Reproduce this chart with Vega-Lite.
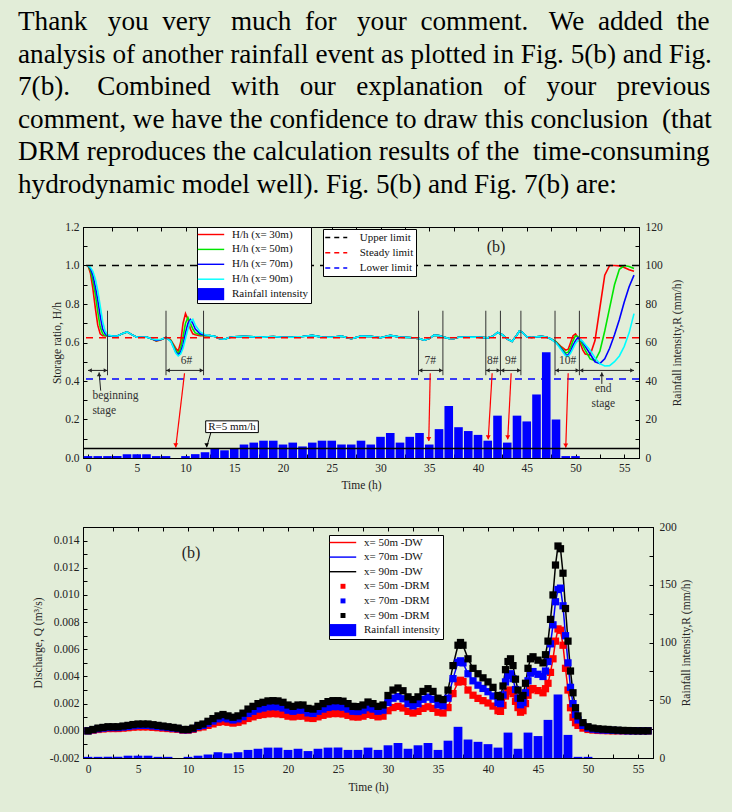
{
"$schema": "https://vega.github.io/schema/vega-lite/v6.json",
"background": "#e2edd8",
"padding": {"left": 18, "top": 8, "right": 50, "bottom": 40},
"title": {
  "text": ["Thank \u00a0\u00a0you \u00a0very \u00a0\u00a0much \u00a0for \u00a0\u00a0your \u00a0comment. \u00a0\u00a0We \u00a0added \u00a0the", "analysis of another rainfall event as plotted in Fig. 5(b) and Fig.", "7(b). \u00a0\u00a0\u00a0Combined \u00a0\u00a0with \u00a0\u00a0our \u00a0\u00a0explanation \u00a0\u00a0of \u00a0\u00a0your \u00a0\u00a0previous", "comment, we have the confidence to draw this conclusion \u00a0(that", "DRM reproduces the calculation results of the \u00a0time-consuming", "hydrodynamic model well). Fig. 5(b) and Fig. 7(b) are:"],
  "anchor": "start", "frame": "group", "font": "Liberation Serif", "fontSize": 27.2, "fontWeight": "normal", "lineHeight": 32.5, "color": "#000000", "offset": 21.5, "dx": -65
},
"bounds": "flush",
"spacing": 69,
"resolve": {"scale": {"color": "independent", "shape": "independent", "stroke": "independent"}, "legend": {"color": "independent", "shape": "independent", "stroke": "independent"}},
"datasets": {
  "hh": [
    {"t":0,"x30":1,"x50":1,"x70":1,"x90":1},
    {"t":0.25,"x30":0.96,"x50":0.975,"x70":0.985,"x90":0.99},
    {"t":0.5,"x30":0.88,"x50":0.92,"x70":0.95,"x90":0.97},
    {"t":0.75,"x30":0.78,"x50":0.85,"x70":0.89,"x90":0.93},
    {"t":1,"x30":0.69,"x50":0.76,"x70":0.82,"x90":0.87},
    {"t":1.25,"x30":0.645,"x50":0.68,"x70":0.74,"x90":0.79},
    {"t":1.5,"x30":0.635,"x50":0.645,"x70":0.67,"x90":0.71},
    {"t":1.75,"x30":0.635,"x50":0.635,"x70":0.645,"x90":0.66},
    {"t":2,"x30":0.635,"x50":0.635,"x70":0.635,"x90":0.64},
    {"t":2.5,"x30":0.634,"x50":0.634,"x70":0.634,"x90":0.634},
    {"t":3,"x30":0.634,"x50":0.634,"x70":0.634,"x90":0.634},
    {"t":3.5,"x30":0.645,"x50":0.645,"x70":0.645,"x90":0.645},
    {"t":4,"x30":0.655,"x50":0.655,"x70":0.655,"x90":0.655},
    {"t":4.5,"x30":0.641,"x50":0.641,"x70":0.641,"x90":0.641},
    {"t":5,"x30":0.628,"x50":0.628,"x70":0.628,"x90":0.628},
    {"t":5.5,"x30":0.627,"x50":0.627,"x70":0.627,"x90":0.627},
    {"t":6,"x30":0.628,"x50":0.628,"x70":0.628,"x90":0.628},
    {"t":6.5,"x30":0.62,"x50":0.62,"x70":0.62,"x90":0.62},
    {"t":7,"x30":0.607,"x50":0.609,"x70":0.611,"x90":0.614},
    {"t":7.5,"x30":0.614,"x50":0.615,"x70":0.616,"x90":0.617},
    {"t":8,"x30":0.626,"x50":0.626,"x70":0.626,"x90":0.626},
    {"t":8.5,"x30":0.612,"x50":0.61,"x70":0.607,"x90":0.605},
    {"t":9,"x30":0.57,"x50":0.56,"x70":0.55,"x90":0.545},
    {"t":9.25,"x30":0.555,"x50":0.54,"x70":0.535,"x90":0.53},
    {"t":9.5,"x30":0.6,"x50":0.57,"x70":0.55,"x90":0.54},
    {"t":9.75,"x30":0.7,"x50":0.63,"x70":0.59,"x90":0.57},
    {"t":10,"x30":0.75,"x50":0.7,"x70":0.65,"x90":0.62},
    {"t":10.25,"x30":0.72,"x50":0.73,"x70":0.7,"x90":0.67},
    {"t":10.5,"x30":0.67,"x50":0.7,"x70":0.72,"x90":0.71},
    {"t":10.75,"x30":0.645,"x50":0.67,"x70":0.7,"x90":0.72},
    {"t":11,"x30":0.64,"x50":0.65,"x70":0.67,"x90":0.69},
    {"t":11.5,"x30":0.635,"x50":0.64,"x70":0.645,"x90":0.655},
    {"t":12,"x30":0.635,"x50":0.635,"x70":0.638,"x90":0.64},
    {"t":12.5,"x30":0.636,"x50":0.636,"x70":0.636,"x90":0.636},
    {"t":13,"x30":0.632,"x50":0.632,"x70":0.632,"x90":0.632},
    {"t":13.5,"x30":0.62,"x50":0.62,"x70":0.62,"x90":0.62},
    {"t":14,"x30":0.617,"x50":0.617,"x70":0.617,"x90":0.617},
    {"t":14.5,"x30":0.626,"x50":0.626,"x70":0.626,"x90":0.626},
    {"t":15,"x30":0.63,"x50":0.63,"x70":0.63,"x90":0.63},
    {"t":16,"x30":0.632,"x50":0.632,"x70":0.632,"x90":0.632},
    {"t":17,"x30":0.629,"x50":0.629,"x70":0.629,"x90":0.629},
    {"t":18,"x30":0.628,"x50":0.628,"x70":0.628,"x90":0.628},
    {"t":19,"x30":0.631,"x50":0.631,"x70":0.631,"x90":0.631},
    {"t":20,"x30":0.627,"x50":0.627,"x70":0.627,"x90":0.627},
    {"t":21,"x30":0.628,"x50":0.628,"x70":0.628,"x90":0.628},
    {"t":22,"x30":0.631,"x50":0.631,"x70":0.631,"x90":0.631},
    {"t":23,"x30":0.637,"x50":0.637,"x70":0.637,"x90":0.637},
    {"t":24,"x30":0.628,"x50":0.628,"x70":0.628,"x90":0.628},
    {"t":25,"x30":0.627,"x50":0.627,"x70":0.627,"x90":0.627},
    {"t":26,"x30":0.633,"x50":0.633,"x70":0.633,"x90":0.633},
    {"t":27,"x30":0.62,"x50":0.62,"x70":0.62,"x90":0.62},
    {"t":28,"x30":0.633,"x50":0.633,"x70":0.633,"x90":0.633},
    {"t":29,"x30":0.632,"x50":0.632,"x70":0.632,"x90":0.632},
    {"t":30,"x30":0.625,"x50":0.625,"x70":0.625,"x90":0.625},
    {"t":31,"x30":0.637,"x50":0.637,"x70":0.637,"x90":0.637},
    {"t":32,"x30":0.628,"x50":0.628,"x70":0.628,"x90":0.628},
    {"t":33,"x30":0.626,"x50":0.626,"x70":0.626,"x90":0.626},
    {"t":34,"x30":0.62,"x50":0.62,"x70":0.62,"x90":0.62},
    {"t":34.5,"x30":0.612,"x50":0.612,"x70":0.612,"x90":0.612},
    {"t":35,"x30":0.62,"x50":0.62,"x70":0.62,"x90":0.62},
    {"t":35.5,"x30":0.638,"x50":0.638,"x70":0.638,"x90":0.638},
    {"t":36,"x30":0.636,"x50":0.636,"x70":0.636,"x90":0.636},
    {"t":36.5,"x30":0.628,"x50":0.628,"x70":0.628,"x90":0.628},
    {"t":37,"x30":0.621,"x50":0.621,"x70":0.621,"x90":0.621},
    {"t":37.5,"x30":0.62,"x50":0.62,"x70":0.62,"x90":0.62},
    {"t":38,"x30":0.627,"x50":0.627,"x70":0.627,"x90":0.627},
    {"t":39,"x30":0.628,"x50":0.628,"x70":0.628,"x90":0.628},
    {"t":40,"x30":0.628,"x50":0.628,"x70":0.628,"x90":0.628},
    {"t":41,"x30":0.624,"x50":0.624,"x70":0.624,"x90":0.624},
    {"t":41.5,"x30":0.632,"x50":0.632,"x70":0.632,"x90":0.632},
    {"t":42,"x30":0.652,"x50":0.652,"x70":0.652,"x90":0.652},
    {"t":42.5,"x30":0.64,"x50":0.64,"x70":0.64,"x90":0.64},
    {"t":43,"x30":0.618,"x50":0.618,"x70":0.618,"x90":0.618},
    {"t":43.5,"x30":0.605,"x50":0.605,"x70":0.605,"x90":0.605},
    {"t":44,"x30":0.64,"x50":0.64,"x70":0.64,"x90":0.64},
    {"t":44.25,"x30":0.66,"x50":0.66,"x70":0.66,"x90":0.66},
    {"t":44.5,"x30":0.655,"x50":0.655,"x70":0.655,"x90":0.655},
    {"t":45,"x30":0.63,"x50":0.63,"x70":0.63,"x90":0.63},
    {"t":45.5,"x30":0.626,"x50":0.626,"x70":0.626,"x90":0.626},
    {"t":46,"x30":0.63,"x50":0.63,"x70":0.63,"x90":0.63},
    {"t":46.5,"x30":0.632,"x50":0.632,"x70":0.632,"x90":0.632},
    {"t":47,"x30":0.628,"x50":0.628,"x70":0.628,"x90":0.628},
    {"t":47.5,"x30":0.618,"x50":0.618,"x70":0.618,"x90":0.618},
    {"t":48,"x30":0.605,"x50":0.603,"x70":0.6,"x90":0.598},
    {"t":48.5,"x30":0.58,"x50":0.575,"x70":0.57,"x90":0.565},
    {"t":49,"x30":0.56,"x50":0.545,"x70":0.535,"x90":0.53},
    {"t":49.25,"x30":0.565,"x50":0.55,"x70":0.535,"x90":0.528},
    {"t":49.5,"x30":0.6,"x50":0.575,"x70":0.555,"x90":0.545},
    {"t":49.75,"x30":0.635,"x50":0.61,"x70":0.585,"x90":0.57},
    {"t":50,"x30":0.645,"x50":0.635,"x70":0.61,"x90":0.595},
    {"t":50.25,"x30":0.625,"x50":0.63,"x70":0.625,"x90":0.61},
    {"t":50.5,"x30":0.595,"x50":0.61,"x70":0.615,"x90":0.615},
    {"t":50.75,"x30":0.56,"x50":0.585,"x70":0.6,"x90":0.605},
    {"t":51,"x30":0.54,"x50":0.56,"x70":0.58,"x90":0.59},
    {"t":51.5,"x30":0.535,"x50":0.515,"x70":0.54,"x90":0.56},
    {"t":52,"x30":0.61,"x50":0.505,"x70":0.5,"x90":0.52},
    {"t":52.5,"x30":0.78,"x50":0.555,"x70":0.49,"x90":0.49},
    {"t":53,"x30":0.95,"x50":0.66,"x70":0.515,"x90":0.478},
    {"t":53.5,"x30":1.0,"x50":0.78,"x70":0.57,"x90":0.48},
    {"t":54,"x30":1.0,"x50":0.9,"x70":0.64,"x90":0.5},
    {"t":54.5,"x30":0.998,"x50":0.98,"x70":0.72,"x90":0.53},
    {"t":55,"x30":0.99,"x50":1.0,"x70":0.81,"x90":0.58},
    {"t":55.5,"x30":0.978,"x50":0.995,"x70":0.89,"x90":0.65},
    {"t":56,"x30":0.97,"x50":0.985,"x70":0.95,"x90":0.75}
  ],
  "rain": [
    {"t":0,"R":1},{"t":1,"R":1},{"t":2,"R":1},{"t":3,"R":1},{"t":4,"R":2},{"t":5,"R":2},{"t":6,"R":2},{"t":7,"R":1},{"t":8,"R":1},{"t":9,"R":0},
    {"t":10,"R":1},{"t":11,"R":2},{"t":12,"R":3},{"t":13,"R":5},{"t":14,"R":4},{"t":15,"R":5},{"t":16,"R":7},{"t":17,"R":8},{"t":18,"R":9},{"t":19,"R":9},
    {"t":20,"R":7},{"t":21,"R":8},{"t":22,"R":6},{"t":23,"R":8},{"t":24,"R":9},{"t":25,"R":9},{"t":26,"R":7},{"t":27,"R":7},{"t":28,"R":9},{"t":29,"R":7},
    {"t":30,"R":11},{"t":31,"R":13},{"t":32,"R":8},{"t":33,"R":11},{"t":34,"R":13},{"t":35,"R":7},{"t":36,"R":15},{"t":37,"R":27},{"t":38,"R":16},{"t":39,"R":14},
    {"t":40,"R":12},{"t":41,"R":9},{"t":42,"R":22},{"t":43,"R":8},{"t":44,"R":22},{"t":45,"R":19},{"t":46,"R":33},{"t":47,"R":55},{"t":48,"R":20},{"t":49,"R":1},{"t":50,"R":1}
  ],
  "q": [
    {"t":0,"DRM50":0,"DRM70":0,"DRM90":0},
    {"t":0.5,"DRM50":0.00005,"DRM70":0.00008,"DRM90":0.0001},
    {"t":1,"DRM50":0.0001,"DRM70":0.00015,"DRM90":0.0002},
    {"t":1.5,"DRM50":0.00014,"DRM70":0.0002,"DRM90":0.00025},
    {"t":2,"DRM50":0.00017,"DRM70":0.00024,"DRM90":0.0003},
    {"t":2.5,"DRM50":0.00017,"DRM70":0.00024,"DRM90":0.0003},
    {"t":3,"DRM50":0.00017,"DRM70":0.00024,"DRM90":0.0003},
    {"t":3.5,"DRM50":0.0002,"DRM70":0.00028,"DRM90":0.00035},
    {"t":4,"DRM50":0.00023,"DRM70":0.00032,"DRM90":0.0004},
    {"t":4.5,"DRM50":0.00027,"DRM70":0.00037,"DRM90":0.00046},
    {"t":5,"DRM50":0.00029,"DRM70":0.0004,"DRM90":0.0005},
    {"t":5.5,"DRM50":0.00029,"DRM70":0.0004,"DRM90":0.0005},
    {"t":6,"DRM50":0.00029,"DRM70":0.0004,"DRM90":0.0005},
    {"t":6.5,"DRM50":0.00026,"DRM70":0.00036,"DRM90":0.00045},
    {"t":7,"DRM50":0.00023,"DRM70":0.00032,"DRM90":0.0004},
    {"t":7.5,"DRM50":0.0002,"DRM70":0.00028,"DRM90":0.00035},
    {"t":8,"DRM50":0.00017,"DRM70":0.00024,"DRM90":0.0003},
    {"t":8.5,"DRM50":0.00014,"DRM70":0.0002,"DRM90":0.00025},
    {"t":9,"DRM50":0.00011,"DRM70":0.00016,"DRM90":0.0002},
    {"t":9.5,"DRM50":0.00005,"DRM70":0.00008,"DRM90":0.0001},
    {"t":10,"DRM50":0.00005,"DRM70":0.00008,"DRM90":0.0001},
    {"t":10.5,"DRM50":0.00011,"DRM70":0.00016,"DRM90":0.0002},
    {"t":11,"DRM50":0.00023,"DRM70":0.00032,"DRM90":0.0004},
    {"t":11.5,"DRM50":0.00029,"DRM70":0.0004,"DRM90":0.0005},
    {"t":12,"DRM50":0.0004,"DRM70":0.00056,"DRM90":0.0007},
    {"t":12.5,"DRM50":0.00051,"DRM70":0.00072,"DRM90":0.0009},
    {"t":13,"DRM50":0.00063,"DRM70":0.00088,"DRM90":0.0011},
    {"t":13.5,"DRM50":0.00068,"DRM70":0.00096,"DRM90":0.0012},
    {"t":14,"DRM50":0.00063,"DRM70":0.00088,"DRM90":0.0011},
    {"t":14.5,"DRM50":0.00057,"DRM70":0.0008,"DRM90":0.001},
    {"t":15,"DRM50":0.00063,"DRM70":0.00088,"DRM90":0.0011},
    {"t":15.5,"DRM50":0.00074,"DRM70":0.00104,"DRM90":0.0013},
    {"t":16,"DRM50":0.00091,"DRM70":0.00128,"DRM90":0.0016},
    {"t":16.5,"DRM50":0.00103,"DRM70":0.00144,"DRM90":0.0018},
    {"t":17,"DRM50":0.00114,"DRM70":0.0016,"DRM90":0.002},
    {"t":17.5,"DRM50":0.0012,"DRM70":0.00168,"DRM90":0.0021},
    {"t":18,"DRM50":0.00125,"DRM70":0.00176,"DRM90":0.0022},
    {"t":18.5,"DRM50":0.00127,"DRM70":0.00178,"DRM90":0.00222},
    {"t":19,"DRM50":0.00125,"DRM70":0.00176,"DRM90":0.0022},
    {"t":19.5,"DRM50":0.0012,"DRM70":0.00168,"DRM90":0.0021},
    {"t":20,"DRM50":0.00108,"DRM70":0.00152,"DRM90":0.0019},
    {"t":20.5,"DRM50":0.00103,"DRM70":0.00144,"DRM90":0.0018},
    {"t":21,"DRM50":0.00108,"DRM70":0.00152,"DRM90":0.0019},
    {"t":21.5,"DRM50":0.00108,"DRM70":0.00152,"DRM90":0.0019},
    {"t":22,"DRM50":0.00094,"DRM70":0.00132,"DRM90":0.00165},
    {"t":22.5,"DRM50":0.00091,"DRM70":0.00128,"DRM90":0.0016},
    {"t":23,"DRM50":0.00103,"DRM70":0.00144,"DRM90":0.0018},
    {"t":23.5,"DRM50":0.00114,"DRM70":0.0016,"DRM90":0.002},
    {"t":24,"DRM50":0.00123,"DRM70":0.00172,"DRM90":0.00215},
    {"t":24.5,"DRM50":0.00127,"DRM70":0.00178,"DRM90":0.00222},
    {"t":25,"DRM50":0.00127,"DRM70":0.00178,"DRM90":0.00222},
    {"t":25.5,"DRM50":0.00124,"DRM70":0.00174,"DRM90":0.00218},
    {"t":26,"DRM50":0.00114,"DRM70":0.0016,"DRM90":0.002},
    {"t":26.5,"DRM50":0.00103,"DRM70":0.00144,"DRM90":0.0018},
    {"t":27,"DRM50":0.00101,"DRM70":0.00142,"DRM90":0.00178},
    {"t":27.5,"DRM50":0.00108,"DRM70":0.00152,"DRM90":0.0019},
    {"t":28,"DRM50":0.00121,"DRM70":0.0017,"DRM90":0.00212},
    {"t":28.5,"DRM50":0.00114,"DRM70":0.0016,"DRM90":0.002},
    {"t":29,"DRM50":0.00103,"DRM70":0.00144,"DRM90":0.0018},
    {"t":29.5,"DRM50":0.00108,"DRM70":0.00152,"DRM90":0.0019},
    {"t":30,"DRM50":0.00148,"DRM70":0.00208,"DRM90":0.0026},
    {"t":30.5,"DRM50":0.00171,"DRM70":0.0024,"DRM90":0.003},
    {"t":31,"DRM50":0.0018,"DRM70":0.00252,"DRM90":0.00315},
    {"t":31.5,"DRM50":0.00168,"DRM70":0.00236,"DRM90":0.00295},
    {"t":32,"DRM50":0.00143,"DRM70":0.002,"DRM90":0.0025},
    {"t":32.5,"DRM50":0.00131,"DRM70":0.00184,"DRM90":0.0023},
    {"t":33,"DRM50":0.00143,"DRM70":0.002,"DRM90":0.0025},
    {"t":33.5,"DRM50":0.00165,"DRM70":0.00232,"DRM90":0.0029},
    {"t":34,"DRM50":0.00177,"DRM70":0.00248,"DRM90":0.0031},
    {"t":34.5,"DRM50":0.00165,"DRM70":0.00232,"DRM90":0.0029},
    {"t":35,"DRM50":0.00137,"DRM70":0.00192,"DRM90":0.0024},
    {"t":35.5,"DRM50":0.00131,"DRM70":0.00184,"DRM90":0.0023},
    {"t":36,"DRM50":0.00171,"DRM70":0.0024,"DRM90":0.003},
    {"t":36.5,"DRM50":0.00274,"DRM70":0.00384,"DRM90":0.0048},
    {"t":37,"DRM50":0.00359,"DRM70":0.00504,"DRM90":0.0063},
    {"t":37.25,"DRM50":0.00372,"DRM70":0.00515,"DRM90":0.0065},
    {"t":37.5,"DRM50":0.00362,"DRM70":0.005,"DRM90":0.0063},
    {"t":38,"DRM50":0.003,"DRM70":0.0042,"DRM90":0.0053},
    {"t":38.5,"DRM50":0.00262,"DRM70":0.00368,"DRM90":0.0046},
    {"t":39,"DRM50":0.00239,"DRM70":0.00336,"DRM90":0.0042},
    {"t":39.5,"DRM50":0.00222,"DRM70":0.00312,"DRM90":0.0039},
    {"t":40,"DRM50":0.00205,"DRM70":0.00288,"DRM90":0.0036},
    {"t":40.5,"DRM50":0.00182,"DRM70":0.00256,"DRM90":0.0032},
    {"t":41,"DRM50":0.00148,"DRM70":0.00208,"DRM90":0.0026},
    {"t":41.25,"DRM50":0.00143,"DRM70":0.002,"DRM90":0.0025},
    {"t":41.5,"DRM50":0.00188,"DRM70":0.00264,"DRM90":0.0033},
    {"t":41.75,"DRM50":0.00256,"DRM70":0.0036,"DRM90":0.0045},
    {"t":42,"DRM50":0.00291,"DRM70":0.00408,"DRM90":0.0051},
    {"t":42.25,"DRM50":0.003,"DRM70":0.0042,"DRM90":0.0053},
    {"t":42.5,"DRM50":0.00274,"DRM70":0.00384,"DRM90":0.0048},
    {"t":42.75,"DRM50":0.00217,"DRM70":0.00304,"DRM90":0.0038},
    {"t":43,"DRM50":0.00171,"DRM70":0.0024,"DRM90":0.003},
    {"t":43.25,"DRM50":0.00137,"DRM70":0.00192,"DRM90":0.0024},
    {"t":43.5,"DRM50":0.00148,"DRM70":0.00208,"DRM90":0.0026},
    {"t":43.75,"DRM50":0.002,"DRM70":0.0028,"DRM90":0.0035},
    {"t":44,"DRM50":0.00262,"DRM70":0.00368,"DRM90":0.0046},
    {"t":44.25,"DRM50":0.00302,"DRM70":0.00424,"DRM90":0.0053},
    {"t":44.5,"DRM50":0.00311,"DRM70":0.00436,"DRM90":0.00545},
    {"t":45,"DRM50":0.00296,"DRM70":0.00416,"DRM90":0.0052},
    {"t":45.5,"DRM50":0.0028,"DRM70":0.004,"DRM90":0.005},
    {"t":45.75,"DRM50":0.0031,"DRM70":0.0044,"DRM90":0.0056},
    {"t":46,"DRM50":0.0035,"DRM70":0.0051,"DRM90":0.0066},
    {"t":46.25,"DRM50":0.0043,"DRM70":0.0064,"DRM90":0.0082},
    {"t":46.5,"DRM50":0.0053,"DRM70":0.0078,"DRM90":0.01},
    {"t":46.75,"DRM50":0.0066,"DRM70":0.0095,"DRM90":0.0122},
    {"t":47,"DRM50":0.0075,"DRM70":0.0104,"DRM90":0.0136},
    {"t":47.25,"DRM50":0.0074,"DRM70":0.0105,"DRM90":0.0134},
    {"t":47.5,"DRM50":0.0063,"DRM70":0.0092,"DRM90":0.0116},
    {"t":47.75,"DRM50":0.0046,"DRM70":0.007,"DRM90":0.009},
    {"t":48,"DRM50":0.003,"DRM70":0.005,"DRM90":0.0066},
    {"t":48.25,"DRM50":0.0017,"DRM70":0.0032,"DRM90":0.0044},
    {"t":48.5,"DRM50":0.001,"DRM70":0.002,"DRM90":0.0028},
    {"t":48.75,"DRM50":0.0006,"DRM70":0.0012,"DRM90":0.0017},
    {"t":49,"DRM50":0.0004,"DRM70":0.0008,"DRM90":0.0011},
    {"t":49.5,"DRM50":0.0002,"DRM70":0.0004,"DRM90":0.0006},
    {"t":50,"DRM50":0.0001,"DRM70":0.0002,"DRM90":0.0003},
    {"t":50.5,"DRM50":0.00006,"DRM70":0.00012,"DRM90":0.0002},
    {"t":51,"DRM50":0.00003,"DRM70":0.00008,"DRM90":0.00015},
    {"t":51.5,"DRM50":0.00002,"DRM70":0.00006,"DRM90":0.00012},
    {"t":52,"DRM50":0.00001,"DRM70":0.00005,"DRM90":0.0001},
    {"t":52.5,"DRM50":0,"DRM70":0.00003,"DRM90":0.00007},
    {"t":53,"DRM50":0,"DRM70":0.00002,"DRM90":0.00005},
    {"t":53.5,"DRM50":0,"DRM70":0.00001,"DRM90":0.00003},
    {"t":54,"DRM50":0,"DRM70":0,"DRM90":0.00002},
    {"t":54.5,"DRM50":0,"DRM70":0,"DRM90":0.00001},
    {"t":55,"DRM50":0,"DRM70":0,"DRM90":0},
    {"t":55.5,"DRM50":0,"DRM70":0,"DRM90":0},
    {"t":56,"DRM50":0,"DRM70":0,"DRM90":0}
  ],
  "limits": [{"limit":"Upper limit","v":1.0},{"limit":"Steady limit","v":0.625},{"limit":"Lower limit","v":0.41}],
  "brackets": [{"t":2.0,"v0":0.43,"v1":0.765},{"t":8.0,"v0":0.43,"v1":0.765},{"t":11.85,"v0":0.43,"v1":0.765},{"t":33.9,"v0":0.43,"v1":0.765},{"t":36.4,"v0":0.43,"v1":0.765},{"t":40.8,"v0":0.43,"v1":0.765},{"t":42.3,"v0":0.43,"v1":0.765},{"t":44.4,"v0":0.43,"v1":0.765},{"t":47.9,"v0":0.43,"v1":0.765},{"t":50.4,"v0":0.43,"v1":0.765}],
  "spans": [{"t1":0,"t2":2.0,"v":0.455},{"t1":8.0,"t2":11.85,"v":0.455},{"t1":33.9,"t2":36.4,"v":0.455},{"t1":40.8,"t2":42.3,"v":0.455},{"t1":42.3,"t2":44.4,"v":0.455},{"t1":47.9,"t2":50.4,"v":0.455},{"t1":50.4,"t2":56,"v":0.455}],
  "events": [{"label":"6#","t":10.1,"vl":0.505,"t0":9.9,"v0":0.44,"t1":9.0,"v1":0.055},{"label":"7#","t":35.1,"vl":0.505,"t0":35.1,"v0":0.44,"t1":34.95,"v1":0.088},{"label":"8#","t":41.5,"vl":0.505,"t0":41.45,"v0":0.44,"t1":41.05,"v1":0.097},{"label":"9#","t":43.35,"vl":0.505,"t0":43.4,"v0":0.44,"t1":43.05,"v1":0.097},{"label":"10#","t":49.2,"vl":0.505,"t0":49.25,"v0":0.44,"t1":49.0,"v1":0.054}],
  "uparrows": [{"t0":1.3,"v0":0.35,"t1":1.14,"v1":0.445},{"t0":52.7,"v0":0.385,"t1":52.7,"v1":0.445}]
},
"vconcat": [
{
  "width": 556, "height": 231,
  "resolve": {"scale": {"y": "independent"}, "axis": {"x": "independent", "y": "independent"}},
  "layer": [
    {
      "resolve": {"scale": {"stroke": "independent"}, "legend": {"stroke": "independent"}},
      "layer": [
        {
          "data": {"name": "hh"},
          "transform": [{"fold": ["x30","x50","x70","x90"], "as": ["series","v"]}],
          "mark": {"type": "line", "strokeWidth": 1.6, "clip": true},
          "encoding": {
            "x": {"field": "t", "type": "quantitative", "scale": {"domain": [0,56], "nice": false},
                  "axis": {"orient": "bottom", "title": "Time (h)", "values": [0,2.5,5,7.5,10,12.5,15,17.5,20,22.5,25,27.5,30,32.5,35,37.5,40,42.5,45,47.5,50,52.5,55], "tickCount": 100, "format": ".0f", "labelExpr": "datum.value % 5 === 0 ? datum.label : ''", "labelOverlap": false, "titlePadding": 6, "labelPadding": 8}},
            "y": {"field": "v", "type": "quantitative", "scale": {"domain": [0,1.2], "nice": false},
                  "axis": {"orient": "left", "title": "Storage ratio, H/h", "values": [0,0.1,0.2,0.3,0.4,0.5,0.6,0.7,0.8,0.9,1,1.1,1.2], "tickCount": 100, "format": ".1f", "labelExpr": "round(datum.value*10) % 2 === 0 ? datum.label : ''", "labelOverlap": false, "titlePadding": 2, "labelPadding": 8}},
            "stroke": {"field": "series", "type": "nominal", "scale": {"domain": ["x30","x50","x70","x90"], "range": ["#ff0000","#00e600","#0000ff","#00ffff"]}, "legend": null}
          }
        },
        {
          "data": {"name": "limits"},
          "mark": {"type": "rule", "strokeDash": [7,6], "strokeWidth": 1.5},
          "encoding": {
            "y": {"field": "v", "type": "quantitative"},
            "stroke": {"field": "limit", "type": "nominal", "scale": {"domain": ["Upper limit","Steady limit","Lower limit"], "range": ["#000000","#ff0000","#0000ff"]},
                       "legend": {"title": null, "orient": "none", "legendX": 240, "legendY": 2, "fillColor": "white", "strokeColor": "black", "padding": 2, "symbolType": "M-2,0H2", "symbolSize": 121, "symbolStrokeWidth": 1.5, "symbolDash": [5,4], "symbolOffset": 4.75, "labelOffset": 17, "rowPadding": 3.3, "symbolOpacity": 1, "labelFontSize": 11}}
          }
        },
        {
          "data": {"name": "brackets"},
          "mark": {"type": "rule", "color": "#333333", "strokeWidth": 1},
          "encoding": {
            "x": {"field": "t", "type": "quantitative"},
            "y": {"field": "v0", "type": "quantitative"},
            "y2": {"field": "v1"}
          }
        },
        {
          "data": {"name": "spans"},
          "mark": {"type": "rule", "color": "#222222", "strokeWidth": 1},
          "encoding": {
            "x": {"field": "t1", "type": "quantitative"},
            "x2": {"field": "t2"},
            "y": {"field": "v", "type": "quantitative"}
          }
        },
        {
          "data": {"name": "spans"},
          "mark": {"type": "point", "shape": "triangle-left", "filled": true, "color": "#222222", "size": 18, "opacity": 1, "xOffset": 2},
          "encoding": {
            "x": {"field": "t1", "type": "quantitative"},
            "y": {"field": "v", "type": "quantitative"}
          }
        },
        {
          "data": {"name": "spans"},
          "mark": {"type": "point", "shape": "triangle-right", "filled": true, "color": "#222222", "size": 18, "opacity": 1, "xOffset": -2},
          "encoding": {
            "x": {"field": "t2", "type": "quantitative"},
            "y": {"field": "v", "type": "quantitative"}
          }
        },
        {
          "data": {"name": "events"},
          "mark": {"type": "rule", "color": "#ff0000", "strokeWidth": 1.2},
          "encoding": {
            "x": {"field": "t0", "type": "quantitative"},
            "x2": {"field": "t1"},
            "y": {"field": "v0", "type": "quantitative"},
            "y2": {"field": "v1"}
          }
        },
        {
          "data": {"name": "events"},
          "mark": {"type": "point", "shape": "triangle-down", "filled": true, "color": "#ff0000", "size": 24, "opacity": 1, "yOffset": -2},
          "encoding": {
            "x": {"field": "t1", "type": "quantitative"},
            "y": {"field": "v1", "type": "quantitative"}
          }
        },
        {
          "data": {"name": "events"},
          "mark": {"type": "text", "font": "Liberation Serif", "fontSize": 11.5, "color": "#333333", "baseline": "middle"},
          "encoding": {
            "x": {"field": "t", "type": "quantitative"},
            "y": {"field": "vl", "type": "quantitative"},
            "text": {"field": "label"}
          }
        },
        {
          "data": {"name": "uparrows"},
          "mark": {"type": "rule", "color": "#222222", "strokeWidth": 1},
          "encoding": {
            "x": {"field": "t0", "type": "quantitative"},
            "x2": {"field": "t1"},
            "y": {"field": "v0", "type": "quantitative"},
            "y2": {"field": "v1"}
          }
        },
        {
          "data": {"name": "uparrows"},
          "mark": {"type": "point", "shape": "triangle-up", "filled": true, "color": "#222222", "size": 20, "opacity": 1, "yOffset": 2},
          "encoding": {
            "x": {"field": "t1", "type": "quantitative"},
            "y": {"field": "v1", "type": "quantitative"}
          }
        },
        {
          "data": {"values": [{"text":"beginning","t":0.45,"v":0.323},{"text":"stage","t":0.45,"v":0.245}]},
          "mark": {"type": "text", "font": "Liberation Serif", "fontSize": 11.5, "color": "#333333", "align": "left", "baseline": "middle"},
          "encoding": {
            "x": {"field": "t", "type": "quantitative"},
            "y": {"field": "v", "type": "quantitative"},
            "text": {"field": "text"}
          }
        },
        {
          "data": {"values": [{"text":"end","t":52.85,"v":0.357},{"text":"stage","t":52.85,"v":0.283}]},
          "mark": {"type": "text", "font": "Liberation Serif", "fontSize": 11.5, "color": "#333333", "align": "center", "baseline": "middle"},
          "encoding": {
            "x": {"field": "t", "type": "quantitative"},
            "y": {"field": "v", "type": "quantitative"},
            "text": {"field": "text"}
          }
        },
        {
          "data": {"values": [{"text":"(b)","t":41.85,"v":1.097}]},
          "mark": {"type": "text", "font": "Liberation Serif", "fontSize": 16, "color": "#222222", "align": "center", "baseline": "middle"},
          "encoding": {
            "x": {"field": "t", "type": "quantitative"},
            "y": {"field": "v", "type": "quantitative"},
            "text": {"field": "text"}
          }
        }
      ]
    },
    {
      "layer": [
        {
          "data": {"name": "rain"},
          "mark": {"type": "bar", "width": 8.6, "color": "#0000ff", "clip": true},
          "encoding": {
            "x": {"field": "t", "type": "quantitative", "scale": {"domain": [0,56], "nice": false},
                  "axis": {"orient": "top", "title": null, "labels": false, "tickCount": 100, "values": [2.5,5,7.5,10,12.5,15,17.5,20,22.5,25,27.5,30,32.5,35,37.5,40,42.5,45,47.5,50,52.5,55]}},
            "y": {"field": "R", "type": "quantitative", "scale": {"domain": [0,120], "nice": false},
                  "axis": {"orient": "right", "title": "Rainfall intensity,R (mm/h)", "titleAngle": 270, "values": [0,10,20,30,40,50,60,70,80,90,100,110,120], "tickCount": 100, "labelExpr": "datum.value % 20 === 0 ? datum.label : ''", "labelOverlap": false, "labelPadding": 10, "titlePadding": 20}}
          }
        },
        {
          "data": {"values": [{"R": 5}]},
          "mark": {"type": "rule", "color": "#000000", "strokeWidth": 1.5},
          "encoding": {
            "y": {"field": "R", "type": "quantitative"}
          }
        },
        {
          "data": {"values": [{"t1": 12.07, "t2": 17.47, "r1": 13.2, "r2": 19.3}]},
          "mark": {"type": "rect", "fill": "white", "stroke": "black", "strokeWidth": 1},
          "encoding": {
            "x": {"field": "t1", "type": "quantitative"},
            "x2": {"field": "t2"},
            "y": {"field": "r1", "type": "quantitative"},
            "y2": {"field": "r2"}
          }
        },
        {
          "data": {"values": [{"text": "R=5 mm/h", "t": 14.77, "r": 16.25}]},
          "mark": {"type": "text", "font": "Liberation Serif", "fontSize": 11, "color": "#111111", "align": "center", "baseline": "middle"},
          "encoding": {
            "x": {"field": "t", "type": "quantitative"},
            "y": {"field": "r", "type": "quantitative"},
            "text": {"field": "text"}
          }
        },
        {
          "data": {"values": [{"t0": 12.6, "r0": 13.2, "t1": 12.17, "r1": 5.6}]},
          "mark": {"type": "rule", "color": "#000000", "strokeWidth": 1},
          "encoding": {
            "x": {"field": "t0", "type": "quantitative"},
            "x2": {"field": "t1"},
            "y": {"field": "r0", "type": "quantitative"},
            "y2": {"field": "r1"}
          }
        },
        {
          "data": {"values": [{"t1": 12.17, "r1": 5.6}]},
          "mark": {"type": "point", "shape": "triangle-down", "filled": true, "color": "#000000", "size": 20, "opacity": 1, "yOffset": -2},
          "encoding": {
            "x": {"field": "t1", "type": "quantitative"},
            "y": {"field": "r1", "type": "quantitative"}
          }
        },
        {
          "data": {"values": [{"t": 0, "R": 0, "series": "x30"}, {"t": 0, "R": 0, "series": "x50"}, {"t": 0, "R": 0, "series": "x70"}, {"t": 0, "R": 0, "series": "x90"}, {"t": 0, "R": 0, "series": "Rain"}]},
          "mark": {"type": "point", "filled": true, "opacity": 0},
          "encoding": {
            "x": {"field": "t", "type": "quantitative"},
            "y": {"field": "R", "type": "quantitative"},
            "color": {"field": "series", "type": "nominal", "scale": {"domain": ["x30","x50","x70","x90","Rain"], "range": ["#ff0000","#00e600","#0000ff","#00ffff","#0000ff"]},
                      "legend": {"title": null, "orient": "none", "legendX": 114, "legendY": 0, "fillColor": "white", "strokeColor": "black", "padding": 2, "symbolSize": 121, "symbolOffset": 6.5, "labelOffset": 15.5, "rowPadding": 2.9, "symbolStrokeWidth": 0, "symbolOpacity": 1, "labelFontSize": 11, "labelExpr": "datum.label == 'Rain' ? 'Rainfall intensity' : 'H/h (x= ' + slice(datum.label, 1) + 'm)'"}},
            "shape": {"field": "series", "type": "nominal", "scale": {"domain": ["x30","x50","x70","x90","Rain"], "range": ["M-2.4,-0.13H2.4V0.13H-2.4Z","M-2.4,-0.13H2.4V0.13H-2.4Z","M-2.4,-0.13H2.4V0.13H-2.4Z","M-2.4,-0.13H2.4V0.13H-2.4Z","M-2.4,-1.1H2.4V1.1H-2.4Z"]},
                      "legend": {"title": null, "orient": "none", "legendX": 114, "legendY": 0, "fillColor": "white", "strokeColor": "black", "padding": 2, "symbolSize": 121, "symbolOffset": 6.5, "labelOffset": 15.5, "rowPadding": 2.9, "symbolStrokeWidth": 0, "symbolOpacity": 1, "labelFontSize": 11, "labelExpr": "datum.label == 'Rain' ? 'Rainfall intensity' : 'H/h (x= ' + slice(datum.label, 1) + 'm)'"}}
          }
        }
      ]
    }
  ]
},
{
  "width": 570, "height": 231,
  "resolve": {"scale": {"y": "independent"}, "axis": {"x": "independent", "y": "independent"}},
  "layer": [
    {
      "layer": [
        {
          "data": {"name": "q"},
          "transform": [{"fold": ["DRM50","DRM70","DRM90"], "as": ["series","Q"]}],
          "mark": {"type": "line", "strokeWidth": 1.5, "clip": true},
          "encoding": {
            "x": {"field": "t", "type": "quantitative", "scale": {"domain": [0,56], "nice": false},
                  "axis": {"orient": "bottom", "title": "Time (h)", "values": [0,2.5,5,7.5,10,12.5,15,17.5,20,22.5,25,27.5,30,32.5,35,37.5,40,42.5,45,47.5,50,52.5,55], "tickCount": 100, "format": ".0f", "labelExpr": "datum.value % 5 === 0 ? datum.label : ''", "labelOverlap": false, "titlePadding": 7, "labelPadding": 9}},
            "y": {"field": "Q", "type": "quantitative", "scale": {"domain": [-0.002,0.015], "nice": false},
                  "axis": {"orient": "left", "title": "Discharge, Q (m³/s)", "values": [-0.002,-0.001,0,0.001,0.002,0.003,0.004,0.005,0.006,0.007,0.008,0.009,0.01,0.011,0.012,0.013,0.014], "tickCount": 100, "format": ".3f", "labelExpr": "round(datum.value*1000) % 2 === 0 ? replace(datum.label, '−', '-') : ''", "labelOverlap": false, "titlePadding": 6, "labelPadding": 8}},
            "stroke": {"field": "series", "type": "nominal", "scale": {"domain": ["DRM50","DRM70","DRM90"], "range": ["#ff0000","#0000ff","#000000"]}, "legend": null}
          }
        },
        {
          "data": {"name": "q"},
          "transform": [{"fold": ["DRM50","DRM70","DRM90"], "as": ["series","Q"]}],
          "mark": {"type": "point", "filled": true, "size": 260, "opacity": 1, "clip": true},
          "encoding": {
            "x": {"field": "t", "type": "quantitative"},
            "y": {"field": "Q", "type": "quantitative"},
            "order": {"field": "series", "type": "ordinal"},
            "color": {"field": "series", "type": "nominal", "scale": {"domain": ["DW50","DW70","DW90","DRM50","DRM70","DRM90","Rain"], "range": ["#ff0000","#0000ff","#000000","#ff0000","#0000ff","#000000","#0000ff"]},
                      "legend": {"title": null, "orient": "none", "legendX": 246, "legendY": 8, "fillColor": "white", "strokeColor": "black", "padding": 2, "symbolSize": 121, "symbolOffset": 6.5, "labelOffset": 15.5, "rowPadding": 2.6, "symbolStrokeWidth": 0, "symbolOpacity": 1, "labelFontSize": 11, "labelExpr": "datum.label == 'Rain' ? 'Rainfall intensity' : 'x= ' + slice(datum.label, -2) + 'm -' + slice(datum.label, 0, -2)"}},
            "shape": {"field": "series", "type": "nominal", "scale": {"domain": ["DW50","DW70","DW90","DRM50","DRM70","DRM90","Rain"], "range": ["M-2.4,-0.13H2.4V0.13H-2.4Z","M-2.4,-0.13H2.4V0.13H-2.4Z","M-2.4,-0.13H2.4V0.13H-2.4Z","M-0.45,-0.45H0.45V0.45H-0.45Z","M-0.45,-0.45H0.45V0.45H-0.45Z","M-0.45,-0.45H0.45V0.45H-0.45Z","M-2.4,-1.1H2.4V1.1H-2.4Z"]},
                      "legend": {"title": null, "orient": "none", "legendX": 246, "legendY": 8, "fillColor": "white", "strokeColor": "black", "padding": 2, "symbolSize": 121, "symbolOffset": 6.5, "labelOffset": 15.5, "rowPadding": 2.6, "symbolStrokeWidth": 0, "symbolOpacity": 1, "labelFontSize": 11, "labelExpr": "datum.label == 'Rain' ? 'Rainfall intensity' : 'x= ' + slice(datum.label, -2) + 'm -' + slice(datum.label, 0, -2)"}}
          }
        },
        {
          "data": {"values": [{"text":"(b)","t":10.3,"Q":0.0131}]},
          "mark": {"type": "text", "font": "Liberation Serif", "fontSize": 16, "color": "#222222", "align": "center", "baseline": "middle"},
          "encoding": {
            "x": {"field": "t", "type": "quantitative"},
            "y": {"field": "Q", "type": "quantitative"},
            "text": {"field": "text"}
          }
        }
      ]
    },
    {
      "layer": [
        {
          "data": {"name": "rain"},
          "mark": {"type": "bar", "width": 8.8, "color": "#0000ff", "clip": true},
          "encoding": {
            "x": {"field": "t", "type": "quantitative", "scale": {"domain": [0,56], "nice": false},
                  "axis": {"orient": "top", "title": null, "labels": false, "tickCount": 100, "values": [2.5,5,7.5,10,12.5,15,17.5,20,22.5,25,27.5,30,32.5,35,37.5,40,42.5,45,47.5,50,52.5,55]}},
            "y": {"field": "R", "type": "quantitative", "scale": {"domain": [0,200], "nice": false},
                  "axis": {"orient": "right", "title": "Rainfall intensity,R (mm/h)", "titleAngle": 270, "values": [0,25,50,75,100,125,150,175,200], "tickCount": 100, "labelExpr": "datum.value % 50 === 0 ? datum.label : ''", "labelOverlap": false, "labelPadding": 10, "titlePadding": 15}}
          }
        }
      ]
    }
  ]
}
],
"config": {
  "view": {"stroke": "#000000", "strokeWidth": 1},
  "font": "Liberation Serif",
  "axis": {"labelFont": "Liberation Serif", "labelFontSize": 11.5, "labelColor": "#222222", "titleFont": "Liberation Serif", "titleFontSize": 11.5, "titleFontWeight": "normal", "titleColor": "#222222", "tickColor": "#000000", "domainColor": "#000000", "grid": false, "tickSize": -4, "labelPadding": 8, "labelOverlap": false, "labelFlush": false},
  "legend": {"labelFont": "Liberation Serif", "labelFontSize": 11, "labelColor": "#111111"},
  "text": {"font": "Liberation Serif"}
}
}
